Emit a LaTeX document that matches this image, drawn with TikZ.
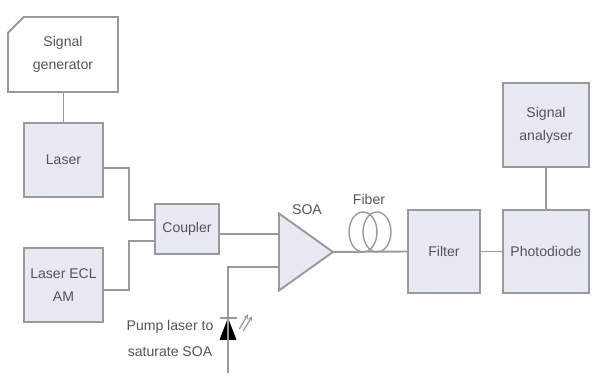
\documentclass[tikz,border=0pt]{standalone}
\usepackage{fontspec}
\setmainfont{Liberation Sans}
\usetikzlibrary{arrows.meta, calc}
\usetikzlibrary{shapes.geometric,shapes.misc}
\definecolor{boxfill}{HTML}{E7EAF3}
\definecolor{boxline}{HTML}{9A9A9A}
\definecolor{boxtext}{HTML}{555555}
\tikzset{
	every node/.style={font=\fontsize{8}{13}\selectfont, text=boxtext, align=center},
	blocknode/.style={rectangle, draw=boxline, fill=boxfill, line width=1.1pt, inner sep=0pt},
	gennode/.style={chamfered rectangle, chamfered rectangle corners=north west, chamfered rectangle xsep=5pt, chamfered rectangle ysep=4pt, draw=boxline, fill=white, line width=1.1pt, inner sep=0pt, minimum width=2.2cm, minimum height=1.5cm},
	ampnode/.style={isosceles triangle, isosceles triangle stretches, draw=boxline, fill=boxfill, line width=1.1pt, inner sep=0pt, outer sep=0pt, minimum width=1.54cm, minimum height=1.08cm},
	coilnode/.style={ellipse, draw=boxline, line width=0.8pt, minimum width=0.56cm, minimum height=0.8cm, inner sep=0pt},
	diodenode/.style={isosceles triangle, isosceles triangle stretches, shape border rotate=90, fill=black, inner sep=0pt, outer sep=0pt, minimum width=0.34cm, minimum height=0.44cm},
	myline/.style={draw=boxline, line width=1.1pt},
	myray/.style={draw=boxline, line width=0.7pt, -{Stealth[length=3pt,width=2.5pt]}}
}
\begin{document}
\begin{tikzpicture}
		\useasboundingbox (0,0) rectangle (12.26,7.6);
		\node[coilnode] at (7.26,2.96) (coil1) {};
		\node[coilnode] at (7.54,2.96) (coil2) {};
		\coordinate (soain1) at (5.58,2.92);
		\coordinate (soain2) at (5.58,2.26);
		\coordinate (pumpend) at (4.56,0.14);
		\node[gennode] at (1.26,6.51) (gen) {Signal\\generator};
		\node[blocknode, minimum width=1.58cm, minimum height=1.48cm] at (1.27,4.4) (laser) {Laser};
		\node[blocknode, minimum width=1.58cm, minimum height=1.48cm] at (1.27,1.9) (ecl) {Laser ECL\\AM};
		\node[blocknode, minimum width=1.28cm, minimum height=1cm] at (3.74,3.02) (coupler) {Coupler};
		\node[ampnode, anchor=lower side] at (5.58,2.56) (soa) {};
		\node[blocknode, minimum width=1.44cm, minimum height=1.66cm] at (8.88,2.57) (filter) {Filter};
		\node[blocknode, minimum width=1.72cm, minimum height=1.66cm] at (10.92,2.57) (photo) {Photodiode};
		\node[blocknode, minimum width=1.72cm, minimum height=1.68cm] at (10.92,5.1) (analyser) {Signal\\analyser};
		\node[diodenode] at (4.56,0.92) (diode) {};
		\node at (6.14,3.4) (soalabel) {SOA};
		\node at (7.38,3.62) (fiberlabel) {Fiber};
		\node[font=\fontsize{8}{15}\selectfont] at (3.4,0.83) (pumplabel) {Pump laser to\\saturate SOA};
		
		%Lines
		\draw[myline] (gen.south -| laser.north) -- (laser.north);
		\draw[myline] ($(laser.east)+(0,-0.16)$) -| ($(coupler.west)+(-0.5,0.18)$) -- ($(coupler.west)+(0,0.18)$);
		\draw[myline] ($(ecl.east)+(0,-0.1)$) -| ($(coupler.west)+(-0.5,-0.24)$) -- ($(coupler.west)+(0,-0.24)$);
		\draw[myline] (coupler.east |- soain1) -- (soain1);
		\draw[myline] (soain2) -| (pumpend);
		\draw[myline] (soa.apex) -- (filter.west);
		\draw[myline] (filter.east) -- (photo.west);
		\draw[myline] (analyser.south) -- (photo.north);
		\draw[myline] ($(diode.apex)+(-0.17,0)$) -- ($(diode.apex)+(0.17,0)$);
		\draw[myray] ($(diode.east)+(0.1,0.1)$) -- ++(0.18,0.3);
		\draw[myray] ($(diode.east)+(0.18,0.06)$) -- ++(0.18,0.3);
	\end{tikzpicture}
\end{document}
